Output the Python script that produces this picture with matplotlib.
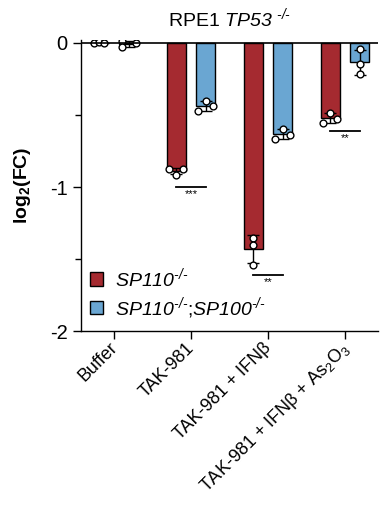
import matplotlib
matplotlib.use('Agg')
import matplotlib.pyplot as plt
import matplotlib.transforms as mtransforms
from matplotlib.patches import Patch
import numpy as np

plt.rcParams['font.family'] = ['Liberation Sans', 'DejaVu Sans']
plt.rcParams['mathtext.fontset'] = 'custom'
plt.rcParams['mathtext.rm'] = 'Liberation Sans'
plt.rcParams['mathtext.it'] = 'Liberation Sans:italic'
plt.rcParams['mathtext.sf'] = 'Liberation Sans:italic'
plt.rcParams['mathtext.bf'] = 'Liberation Sans:bold'

# treatments on the x axis
groups = ['Buffer', 'TAK-981', 'TAK-981 + IFN\u03b2',
          'TAK-981 + IFN\u03b2 + As$_2$O$_3$']

# log2(FC) replicates
sp110 = [[0.0, 0.005, 0.0],
         [-0.875, -0.875, -0.915],
         [-1.354, -1.403, -1.542],
         [-0.486, -0.556, -0.528]]
sp110_sp100 = [[0.01, -0.03, 0.0],
               [-0.40, -0.47, -0.44],
               [-0.597, -0.667, -0.639],
               [-0.042, -0.146, -0.215]]

# significance bars (for groups 1..3)
sig_group = [1, 2, 3]
sig_y = [-1.0, -1.61, -0.61]
sig_txt = ['***', '**', '**']

red = '#a52a30'
blue = '#6aa6d2'

fig = plt.figure(figsize=(3.85, 5.07), dpi=100)
ax = fig.add_axes([0.21, 0.347, 0.772, 0.574])

x = np.arange(len(groups))
w = 0.25
off = 0.19
jit_red = [[-0.07, 0.0, 0.06], [-0.1, 0.09, 0.0], [0, 0, 0], [0.0, -0.1, 0.09]]
jit_blue = [[-0.08, -0.08, 0.1], [0.0, -0.1, 0.09], [0.0, -0.1, 0.09], [0, 0, 0]]

for data, pos, col, jit in [(sp110, x - off, red, jit_red),
                             (sp110_sp100, x + off, blue, jit_blue)]:
    arr = np.array(data)
    m = arr.mean(axis=1)
    sd = arr.std(axis=1, ddof=1)
    ax.bar(pos, m, width=w, color=col, edgecolor='black', linewidth=1.0, zorder=2)
    ax.errorbar(pos, m, yerr=sd, fmt='none', ecolor='black', elinewidth=1.0,
                capsize=4, capthick=1.0, zorder=3)
    for i in range(len(pos)):
        ax.scatter(pos[i] + np.array(jit[i]), arr[i], s=24, facecolor='white',
                   edgecolor='black', linewidth=1.0, zorder=4)

for g, yy, t in zip(sig_group, sig_y, sig_txt):
    ax.plot([g - 0.2, g + 0.2], [yy, yy], color='black', lw=1.3, zorder=3)
    ax.text(g, yy - 0.015, t, ha='center', va='top', fontsize=8)

ax.axhline(0, color='black', lw=1.2, zorder=5)
ax.set_xlim(-0.43, 3.43)
ax.set_ylim(-2, 0.02)
ax.set_yticks([0, -1, -2])
ax.set_yticklabels(['0', '-1', '-2'], fontsize=14.5)
ax.set_yticks([-0.5, -1.5], minor=True)
ax.tick_params(axis='y', which='major', length=6, width=1)
ax.tick_params(axis='y', which='minor', length=4, width=1)
ax.set_xticks(x)
ax.set_xticklabels(groups, rotation=45, ha='right', rotation_mode='anchor', fontsize=13)
ax.tick_params(axis='x', length=6, width=1)
# nudge the slanted labels up and to the left a bit
shift = mtransforms.ScaledTranslation(-5 / 100, 5 / 100, fig.dpi_scale_trans)
for lab in ax.get_xticklabels():
    lab.set_transform(lab.get_transform() + shift)
for s in ['top', 'right']:
    ax.spines[s].set_visible(False)
ax.spines['left'].set_linewidth(1)
ax.spines['bottom'].set_linewidth(1)

ax.set_ylabel('log$_\\mathbf{2}$(FC)', fontsize=14, fontweight='bold', labelpad=12)
ax.set_title('RPE1 $\\mathsf{TP53}$ $^{\\mathsf{\u2010/\u2010}}$', fontsize=14, pad=10)

handles = [Patch(facecolor=red, edgecolor='black', lw=1),
           Patch(facecolor=blue, edgecolor='black', lw=1)]
labels = ['$\\mathsf{SP110}^{\\mathsf{\u2010/\u2010}}$',
          '$\\mathsf{SP110}^{\\mathsf{\u2010/\u2010}}$;$\\mathsf{SP100}^{\\mathsf{\u2010/\u2010}}$']
ax.legend(handles, labels, loc='lower left', bbox_to_anchor=(-0.01, -0.005),
          frameon=False, fontsize=14, handlelength=0.7, handleheight=0.7,
          handletextpad=0.6, labelspacing=0.25, borderaxespad=0.2)

fig.savefig('out.png', dpi=100)
